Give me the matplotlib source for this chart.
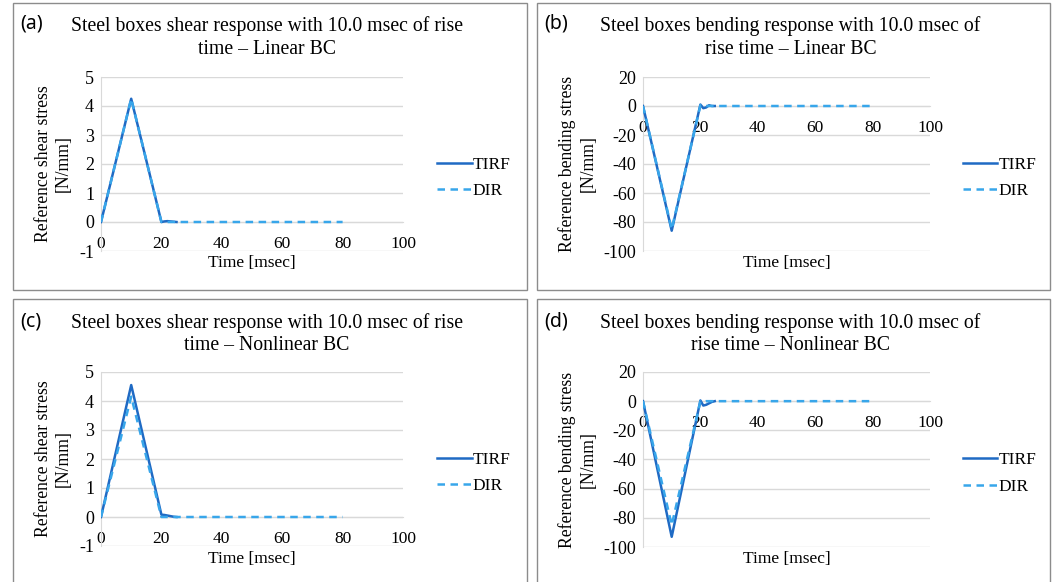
import numpy as np
from matplotlib import pyplot as plt
from matplotlib.patches import Rectangle

# time axes [msec]
t_tirf = [0, 10, 20, 21, 22, 23, 24, 25]
t_dir = [0, 10, 20, 21, 22, 25, 30, 40, 50, 60, 70, 80]

# (a) shear, linear BC
shear_lin_tirf = [0, 4.25, 0.0, 0.02, 0.03, 0.02, 0.01, 0.0]
shear_lin_dir = [0, 4.25, 0.0, 0.0, 0.0, 0, 0, 0, 0, 0, 0, 0]
# (b) bending, linear BC
bend_lin_tirf = [0, -86, 1.0, -1.5, -1.0, 0.5, 0.0, 0.0]
bend_lin_dir = [0, -85, 0.5, -0.5, 0.0, 0, 0, 0, 0, 0, 0, 0]
# (c) shear, nonlinear BC
shear_nl_tirf = [0, 4.55, 0.08, 0.07, 0.05, 0.03, 0.01, 0.0]
shear_nl_dir = [0, 4.15, 0.0, 0.0, 0.0, 0, 0, 0, 0, 0, 0, 0]
# (d) bending, nonlinear BC
bend_nl_tirf = [0, -93, 0.5, -3.0, -2.5, -1.5, -0.5, 0.0]
bend_nl_dir = [0, -85, 0.0, -0.5, 0.0, 0, 0, 0, 0, 0, 0, 0]

titles = ["Steel boxes shear response with 10.0 msec of rise\ntime \u2013 Linear BC",
          "Steel boxes bending response with 10.0 msec of\nrise time \u2013 Linear BC",
          "Steel boxes shear response with 10.0 msec of rise\ntime \u2013 Nonlinear BC",
          "Steel boxes bending response with 10.0 msec of\nrise time \u2013 Nonlinear BC"]
letters = ["(a)", "(b)", "(c)", "(d)"]
ylabels = ["Reference shear stress\n[N/mm]", "Reference bending stress\n[N/mm]",
           "Reference shear stress\n[N/mm]", "Reference bending stress\n[N/mm]"]

W, H = 1056, 582
plt.rcParams['font.family'] = ['Liberation Serif', 'DejaVu Serif']
fig = plt.figure(figsize=(W/100, H/100), dpi=100)

c_tirf = '#1F6AC4'
c_dir = '#38A6EA'
grid_c = '#D9D9D9'

# panel boxes (x0, y0, x1, y1) in pixels
boxes = [(13, 3, 527, 290), (537, 3, 1050, 290), (13, 299, 527, 590), (537, 299, 1050, 590)]
# axes rects (left, top, right, bottom) in pixels
rects = [(101, 77, 403, 251), (643, 77, 930, 251), (101, 372, 403, 546), (643, 372, 930, 547)]
data = [(shear_lin_tirf, shear_lin_dir), (bend_lin_tirf, bend_lin_dir),
        (shear_nl_tirf, shear_nl_dir), (bend_nl_tirf, bend_nl_dir)]

for i in range(4):
    bx0, by0, bx1, by1 = boxes[i]
    fig.patches.append(Rectangle((bx0/W, 1-by1/H), (bx1-bx0)/W, (by1-by0)/H,
                                 transform=fig.transFigure, fill=False,
                                 edgecolor='#8C8C8C', lw=1.0))
    l, t, r, b = rects[i]
    ax = fig.add_axes([l/W, 1-b/H, (r-l)/W, (b-t)/H])
    tirf, dirr = data[i]
    ax.plot(t_tirf, tirf, color=c_tirf, lw=1.8, label='TIRF', zorder=3)
    ax.plot(t_dir, dirr, color=c_dir, lw=1.8, ls=(0, (3, 2.2)), label='DIR', zorder=4)

    ax.set_xlim(0, 100)
    ax.set_xticks([0, 20, 40, 60, 80, 100])
    if i % 2 == 0:
        ax.set_ylim(-1, 5)
        ax.set_yticks([-1, 0, 1, 2, 3, 4, 5])
        ax.set_yticklabels(['-1', '0', '1', '2', '3', '4', '5'])
    else:
        ax.set_ylim(-100, 20)
        ax.set_yticks([-100, -80, -60, -40, -20, 0, 20])
        ax.set_yticklabels(['-100', '-80', '-60', '-40', '-20', '0', '20'])
    ax.grid(axis='y', color=grid_c, lw=1.0, zorder=0)
    ax.set_axisbelow(True)
    for s in ['top', 'right']:
        ax.spines[s].set_visible(False)
    ax.spines['left'].set_color(grid_c)
    ax.spines['bottom'].set_position(('data', 0))
    ax.spines['bottom'].set_color(grid_c)
    ax.tick_params(length=0, labelsize=13, pad=5)
    ax.tick_params(axis='x', labelsize=12.5, pad=10)

    ax.set_ylabel(ylabels[i], fontsize=12.7, linespacing=1.25, labelpad=5)
    fig.text(((l+r)/2)/W, 1-263/H if i < 2 else 1-559/H, 'Time [msec]',
             ha='center', va='center', fontsize=12.5)
    ttl_y = 26 if i < 2 else 323
    fig.text(((bx0+bx1)/2 - 3)/W, 1-ttl_y/H, titles[i].split('\n')[0],
             ha='center', va='center', fontsize=14.2)
    fig.text(((bx0+bx1)/2 - 3)/W, 1-(ttl_y+23)/H, titles[i].split('\n')[1],
             ha='center', va='center', fontsize=14.2)
    fig.text((bx0+7)/W, 1-(ttl_y-2)/H, letters[i], ha='left', va='center',
             fontsize=14, family=['Noto Sans', 'DejaVu Sans'])

    ax.legend(loc='center left', bbox_to_anchor=(1.09, 0.42), frameon=False,
              fontsize=12.5, handlelength=2.0, handletextpad=0.05, labelspacing=0.6,
              borderaxespad=0)

fig.savefig('out.png', dpi=100)
